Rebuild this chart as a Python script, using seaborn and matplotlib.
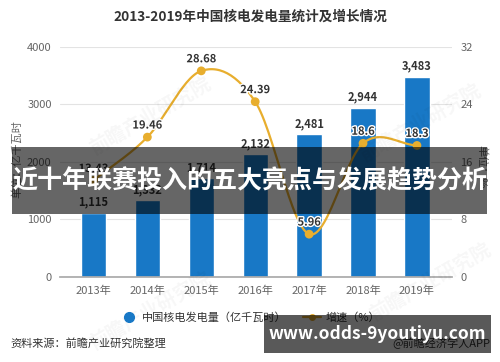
import numpy as np
import matplotlib
matplotlib.use("Agg")
import matplotlib.pyplot as plt
import seaborn as sns
from matplotlib.lines import Line2D
from matplotlib.patches import Rectangle
import matplotlib.patheffects as pe

# data
years = ["2013年", "2014年", "2015年", "2016年", "2017年", "2018年", "2019年"]
output = [1115, 1332, 1714, 2132, 2481, 2944, 3483]   # 亿千瓦时
growth = [13.43, 19.46, 28.68, 24.39, 5.96, 18.6, 18.3]  # %
growth_labels = ["13.43", "19.46", "28.68", "24.39", "5.96", "18.6", "18.3"]

sns.set_theme(style="white")
plt.rcParams['font.family'] = ['Noto Sans CJK SC', 'DejaVu Sans']

bar_color = "#1878c6"
line_color = "#e8ae2e"
tick_color = "#666666"
text_color = "#333333"

fig = plt.figure(figsize=(5, 3.62), dpi=100)
ax = fig.add_axes([0.12, 0.2348, 0.784, 0.6354])

sns.barplot(x=years, y=output, color=bar_color, width=0.47, saturation=1, ax=ax, zorder=2)
ax.set_ylim(0, 4000)
ax.set_xlim(-0.62, 6.65)
ax.set_yticks([0, 1000, 2000, 3000, 4000])
ax.grid(axis="y", color="#e3e3e3", linewidth=0.8, zorder=0)
ax.set_axisbelow(True)
for s in ["top", "right", "left"]:
    ax.spines[s].set_visible(False)
ax.spines["bottom"].set_color("#aaaaaa")
ax.tick_params(axis="y", length=0, labelsize=8, labelcolor=tick_color, pad=6)
ax.tick_params(axis="x", length=3, color="#aaaaaa", labelsize=8, labelcolor=tick_color, pad=3)
ax.set_xlabel("")
ax.set_ylabel("")

for i, v in enumerate(output):
    ax.annotate(f"{v:,}", (i, v), xytext=(0, 3), textcoords="offset points",
                ha="center", va="bottom", fontsize=8, fontweight="bold", color=text_color)

# growth line on right axis, smoothed like the original
ax2 = ax.twinx()
ax2.set_ylim(0, 32)
ax2.set_yticks([0, 8, 16, 24, 32])
for s in ax2.spines.values():
    s.set_visible(False)
ax2.tick_params(axis="y", length=0, labelsize=8, labelcolor=tick_color, pad=6)
ax2.grid(False)

xs = np.arange(len(growth), dtype=float)
ys = np.array(growth, dtype=float)
tang = np.gradient(ys, xs)
cx, cy = [], []
for i in range(len(xs) - 1):
    t = np.linspace(0, 1, 30)
    h00 = 2 * t**3 - 3 * t**2 + 1
    h10 = t**3 - 2 * t**2 + t
    h01 = -2 * t**3 + 3 * t**2
    h11 = t**3 - t**2
    cx.extend(xs[i] + t)
    cy.extend(h00 * ys[i] + h10 * tang[i] + h01 * ys[i + 1] + h11 * tang[i + 1])
ax2.plot(cx, cy, color=line_color, linewidth=1.6, zorder=3)
sns.scatterplot(x=xs, y=ys, color=line_color, s=40, edgecolor="none", ax=ax2, zorder=4)
for i, v in enumerate(growth):
    ax2.annotate(growth_labels[i], (i, v), xytext=(0, 4), textcoords="offset points",
                 ha="center", va="bottom", fontsize=8, fontweight="bold", color=text_color,
                 path_effects=[pe.withStroke(linewidth=2, foreground="white")], zorder=5)

# axis unit labels
fig.text(0.034, 0.56, "单位：亿千瓦时", rotation=90, ha="center", va="center", fontsize=8, color=tick_color)
fig.text(0.964, 0.54, "单位：%", rotation=270, ha="center", va="center", fontsize=8, color=tick_color)

# title
fig.text(0.5, 0.953, "2013-2019年中国核电发电量统计及增长情况", ha="center", va="center",
         fontsize=9.8, fontweight="bold", color=text_color)

# faint watermarks
for (wx, wy) in [(0.3, 0.68), (0.84, 0.66), (0.3, 0.14), (0.86, 0.22)]:
    fig.text(wx, wy, "前瞻产业研究院", rotation=30, ha="center", va="center",
             fontsize=14, fontweight="bold", color="#000000", alpha=0.035)

# legend
handles = [
    Line2D([], [], marker="o", linestyle="none", color=bar_color, markersize=7),
    Line2D([], [], marker="o", linestyle="-", color=line_color, markersize=4, linewidth=1.6),
]
fig.legend(handles, ["中国核电发电量（亿千瓦时）", "增速（%）"], loc="center",
           bbox_to_anchor=(0.5, 0.124), ncol=2, frameon=False, fontsize=8,
           handlelength=1.6, handletextpad=0.4, columnspacing=1.5, labelcolor=text_color)

fig.text(0.02, 0.052, "资料来源：前瞻产业研究院整理", ha="left", va="center", fontsize=8, color=text_color)
fig.text(0.98, 0.052, "@前瞻经济学人APP", ha="right", va="center", fontsize=8, color=text_color)

# overlay banners
fig.add_artist(Rectangle((0.024, 1 - 214 / 362), 0.95, 67 / 362, transform=fig.transFigure,
                         facecolor="black", alpha=0.6, edgecolor="none", zorder=10))
fig.text(0.5, 1 - 181 / 362, "近十年联赛投入的五大亮点与发展趋势分析", ha="center", va="center",
         fontsize=18, fontweight="bold", color="white", zorder=11)

fig.add_artist(Rectangle((0.528, 1 - 353 / 362), 0.454, 38 / 362, transform=fig.transFigure,
                         facecolor="black", alpha=0.65, edgecolor="none", zorder=10))
fig.text(0.755, 1 - 334 / 362, "www.odds-9youtiyu.com", ha="center", va="center",
         fontsize=12.5, fontweight="bold", color="white", zorder=11)

fig.savefig("out.png", dpi=100)
